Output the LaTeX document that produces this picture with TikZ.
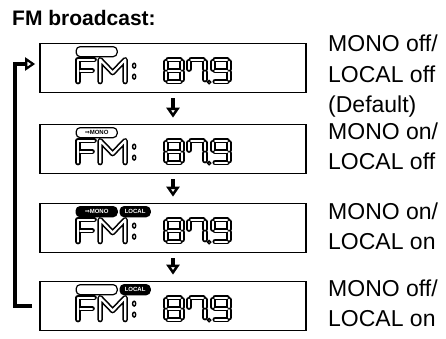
\documentclass[tikz,border=0pt]{standalone}
\usepackage{fontspec}
\setmainfont{Liberation Sans}
\newfontfamily\symfont{DejaVu Sans}
\usetikzlibrary{arrows.meta, positioning}

% segments of one LCD digit, from its top left corner
\newcommand\segA{(2,0) -- (14,0)}
\newcommand\segB{(16,2) -- (16,9.5)}
\newcommand\segC{(16,12.5) -- (16,20)}
\newcommand\segD{(2,22) -- (14,22)}
\newcommand\segE{(0,12.5) -- (0,20)}
\newcommand\segF{(0,2) -- (0,9.5)}
\newcommand\segG{(2,11) -- (14,11)}

% the readout "FM: 87.9" inside one display box
\newcommand\lcdreadout[3]{%
  \begin{scope}[shift={(#1.north west)}]
    \node (#1-mono) at (57.5,9) [#2];
    #3
    % FM
    \draw[seg] (39,39) -- (39,17) -- (55,17) (41,28) -- (53,28);
    \draw[seg] (61,39) -- (61,17) -- (73.5,30) -- (86,17) -- (86,39);
    \draw[dotseg] (95,23) ellipse (1.6pt and 2.4pt) (95,34) ellipse (1.6pt and 2.4pt);
    % 87.9
    \begin{scope}[shift={(127,17)}]
      \draw[seg] \segA \segB \segC \segD \segE \segF \segG;
    \end{scope}
    \begin{scope}[shift={(150,17)}]
      \draw[seg] \segA \segB \segC \segF;
    \end{scope}
    \draw[dotseg] (170,39.5) circle (1.6pt);
    \begin{scope}[shift={(174,17)}]
      \draw[seg] \segA \segB \segC \segD \segF \segG;
    \end{scope}
  \end{scope}}

\begin{document}
\begin{tikzpicture}[x=1pt, y=-1pt,
  dispbox/.style={draw, line width=1.7pt, minimum width=266pt, minimum height=49pt, inner sep=0pt},
  seg/.style={draw=black, line width=1.6pt, double=white, double distance=2.2pt, line cap=round, line join=round},
  dotseg/.style={draw=black, line width=1.4pt, fill=white},
  pill/.style={draw, line width=1.2pt, rounded corners=4pt, minimum width=41pt, minimum height=10pt, inner sep=0pt, font=\fontsize{6}{6}\selectfont\bfseries},
  monooff/.style={pill, node contents={}},
  monoon/.style={pill, node contents={{\symfont ⇒}MONO}},
  monolit/.style={pill, fill=black, text=white, node contents={{\symfont ⇒}MONO}},
  localon/.style={pill, fill=black, text=white, minimum width=30pt, node contents={LOCAL}},
  state/.style={anchor=base west, inner sep=0pt, align=left, font=\fontsize{23}{30.5}\selectfont},
  nextarrow/.style={line width=3.8pt, -{Triangle[open, length=10pt, width=13pt, line width=3pt]}, shorten <=5pt, shorten >=6pt},
  backarrow/.style={line width=3.8pt, -{Triangle[open, length=10pt, width=13pt, line width=2.2pt]}, shorten >=4pt}
]
  \useasboundingbox (0,0) rectangle (446,338);

  \node[anchor=base west, inner sep=0pt, font=\fontsize{21}{24}\selectfont\bfseries] (title) at (12,25) {FM broadcast:};

  \node[dispbox] (disp1) at (173,68) {};
  \node[dispbox] (disp2) at (173,149) {};
  \node[dispbox] (disp3) at (173,228) {};
  \node[dispbox] (disp4) at (173,306) {};

  \lcdreadout{disp1}{monooff}{}
  \lcdreadout{disp2}{monoon}{}
  \lcdreadout{disp3}{monolit}{\node (disp3-local) at (96,9) [localon];}
  \lcdreadout{disp4}{monooff}{\node (disp4-local) at (96,9) [localon];}

  % anchor base west is the last line here
  \node[state] (state1) at (328,112.5) {MONO off/\\LOCAL off\\(Default)};
  \node[state] (state2) at (328,169.5) {MONO on/\\LOCAL off};
  \node[state] (state3) at (328,249.5) {MONO on/\\LOCAL on};
  \node[state] (state4) at (328,326.5) {MONO off/\\LOCAL on};

  \foreach \a/\b in {disp1/disp2, disp2/disp3, disp3/disp4}
    \draw[nextarrow] (\a) -- (\b);

  \coordinate (loopstart) at ([xshift=-7pt]disp4.west);
  \draw[backarrow] (loopstart) -- ++(-17pt,0) |- ([yshift=4pt]disp1.west);
\end{tikzpicture}
\end{document}
